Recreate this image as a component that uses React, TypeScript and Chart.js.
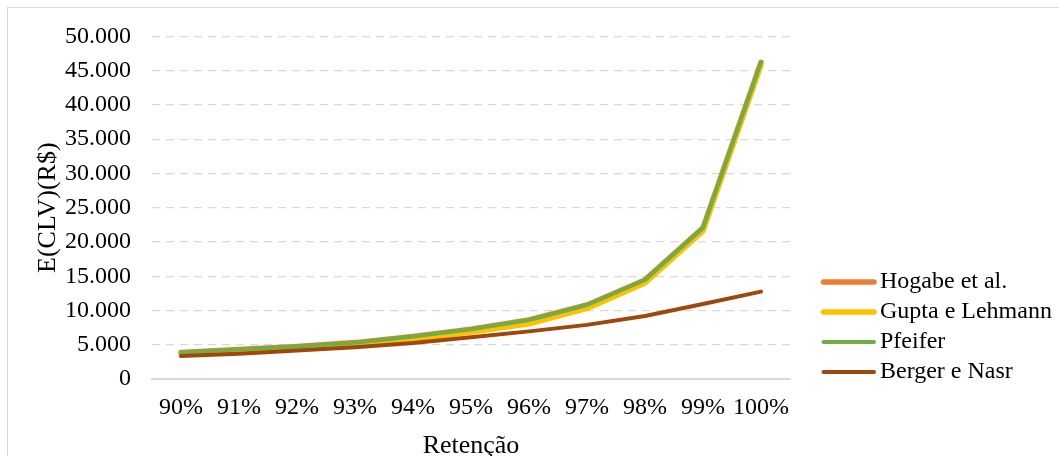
import React, { useEffect, useRef } from 'react';
import { Chart, registerables } from 'chart.js';

Chart.register(...registerables);

// Retention rates on the category axis
const retention = ['90%', '91%', '92%', '93%', '94%', '95%', '96%', '97%', '98%', '99%', '100%'];

// Expected customer lifetime value (R$) per model
const hogabe = [3870, 4310, 4760, 5310, 6210, 7260, 8610, 10810, 14460, 22060, 46200];
const gupta = [3600, 4000, 4450, 5000, 5800, 6850, 8050, 10300, 14000, 21600, 45800];
const pfeifer = [3850, 4300, 4750, 5300, 6200, 7250, 8600, 10800, 14450, 22050, 46200];
const berger = [3350, 3700, 4150, 4650, 5250, 6100, 6950, 7900, 9200, 10950, 12750];

// Value-axis range and step
const yMin = 0;
const yMax = 50000;
const yStep = 5000;

const FONT = "'Liberation Serif', 'Times New Roman', serif";

const formatThousands = (v: number) =>
  String(Math.round(v)).replace(/\B(?=(\d{3})+(?!\d))/g, '.');

// Legend drawn as line swatches to the right of the plot area
const lineLegend = {
  id: 'lineLegend',
  afterDraw(chart: any) {
    const { ctx, chartArea } = chart;
    ctx.save();
    ctx.font = `24px ${FONT}`;
    ctx.textBaseline = 'middle';
    ctx.textAlign = 'left';
    chart.data.datasets.forEach((ds: any, i: number) => {
      const y = chartArea.bottom - 97 + i * 30;
      const x = chartArea.right + 31;
      ctx.beginPath();
      ctx.strokeStyle = ds.borderColor;
      ctx.lineWidth = ds.borderWidth;
      ctx.lineCap = 'round';
      ctx.moveTo(x + 2.5, y);
      ctx.lineTo(x + 53, y);
      ctx.stroke();
      ctx.fillStyle = '#000';
      ctx.fillText(ds.label, x + 59, y);
    });
    ctx.restore();
  },
};

export default function App() {
  const canvasRef = useRef<HTMLCanvasElement | null>(null);

  useEffect(() => {
    if (!canvasRef.current) return;
    const lineStyle = {
      pointRadius: 0,
      pointHoverRadius: 0,
      tension: 0,
      fill: false,
      borderJoinStyle: 'round' as const,
      borderCapStyle: 'round' as const,
    };
    const chart = new Chart(canvasRef.current, {
      type: 'line',
      data: {
        labels: retention,
        datasets: [
          { label: 'Hogabe et al.', data: hogabe, borderColor: '#ED7D31', backgroundColor: '#ED7D31', borderWidth: 5.5, order: 4, ...lineStyle },
          { label: 'Gupta e Lehmann', data: gupta, borderColor: '#FFC000', backgroundColor: '#FFC000', borderWidth: 5.5, order: 3, ...lineStyle },
          { label: 'Pfeifer', data: pfeifer, borderColor: '#70AD47', backgroundColor: '#70AD47', borderWidth: 4, order: 2, ...lineStyle },
          { label: 'Berger e Nasr', data: berger, borderColor: '#9E480E', backgroundColor: '#9E480E', borderWidth: 4, order: 1, ...lineStyle },
        ],
      },
      options: {
        responsive: false,
        animation: false,
        layout: { padding: { left: 0, top: 20, right: 276, bottom: 0 } },
        plugins: {
          legend: { display: false },
          tooltip: { enabled: false },
        },
        scales: {
          x: {
            type: 'category',
            offset: true,
            grid: { display: false },
            border: { display: true, color: '#d9d9d9', width: 2 },
            ticks: {
              color: '#000',
              font: { family: FONT, size: 24 },
              padding: 6,
              maxRotation: 0,
              autoSkip: false,
            },
            title: {
              display: true,
              text: 'Retenção',
              color: '#000',
              font: { family: FONT, size: 26 },
              padding: { top: 0, bottom: 14 },
            },
            afterFit: (scale: any) => {
              scale.height = 97;
            },
          },
          y: {
            min: yMin,
            max: yMax,
            grid: {
              color: '#d9d9d9',
              lineWidth: 1.3,
              drawTicks: true,
              tickLength: 7,
              tickColor: 'rgba(0,0,0,0)',
            },
            border: { display: false, dash: [8, 6] },
            ticks: {
              stepSize: yStep,
              color: '#000',
              font: { family: FONT, size: 24 },
              padding: 14,
              callback: (v: any) => formatThousands(Number(v)),
            },
            title: {
              display: true,
              text: 'E(CLV)(R$)',
              color: '#000',
              font: { family: FONT, size: 26 },
              padding: { top: 25, bottom: 0 },
            },
            afterFit: (scale: any) => {
              scale.width = 144;
            },
          },
        },
      },
      plugins: [lineLegend],
    });
    return () => chart.destroy();
  }, []);

  return (
    <div
      style={{
        position: 'fixed',
        left: 7,
        top: 7,
        width: 1058,
        height: 468,
        border: '1px solid #d9d9d9',
        background: '#fff',
      }}
    >
      <canvas ref={canvasRef} width={1058} height={468} style={{ display: 'block' }} />
    </div>
  );
}
